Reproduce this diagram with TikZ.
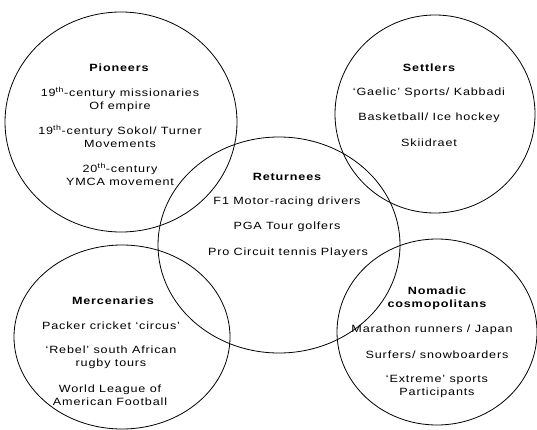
\documentclass[tikz,border=0pt]{standalone}
\usepackage{fontspec}
\setmainfont{Liberation Sans}[FakeStretch=1.2,LetterSpace=8]
\usetikzlibrary{shapes.geometric}

\begin{document}
\begin{tikzpicture}[
      x=1pt,y=-1pt,
      ring/.style={draw,ellipse,line width=0.8pt,inner sep=0pt},
      head/.style={font=\fontsize{10.5}{13}\selectfont\bfseries,align=center},
      entry/.style={font=\fontsize{10.5}{13}\selectfont,align=center}
    ]
      \useasboundingbox (0,0) rectangle (537,430);
      % the five rings
      \node[ring,minimum width=232pt,minimum height=220pt] (pioneers) at (121,122) {};
      \node[ring,minimum width=200pt,minimum height=198pt] (settlers) at (435,114) {};
      \node[ring,minimum width=242pt,minimum height=216pt] (returnees) at (279,245) {};
      \node[ring,minimum width=216pt,minimum height=184pt] (mercenaries) at (122,337) {};
      \node[ring,minimum width=200pt,minimum height=186pt] (nomads) at (437,332) {};
      % Pioneers
      \node[head] (pioneershead) at (119,68) {Pioneers};
      \node[entry] (missionaries) at (120,99) {19\textsuperscript{th}-century missionaries\\Of empire};
      \node[entry] (sokol) at (120,136.5) {19\textsuperscript{th}-century Sokol/ Turner\\Movements};
      \node[entry] (ymca) at (120,174.5) {20\textsuperscript{th}-century\\YMCA movement};
      % Settlers
      \node[head] (settlershead) at (429,68) {Settlers};
      \node[entry] (gaelic) at (429,93) {`Gaelic' Sports/ Kabbadi};
      \node[entry] (basketball) at (429,118) {Basketball/ Ice hockey};
      \node[entry] (skiidraet) at (429,143) {Skiidraet};
      % Returnees
      \node[head] (returneeshead) at (287,177) {Returnees};
      \node[entry] (drivers) at (287,202) {F1 Motor-racing drivers};
      \node[entry] (golfers) at (287,227) {PGA Tour golfers};
      \node[entry] (tennis) at (288,253) {Pro Circuit tennis Players};
      % Mercenaries
      \node[head] (mercenarieshead) at (113,301) {Mercenaries};
      \node[entry] (packer) at (111,326) {Packer cricket `circus'};
      \node[entry] (rebel) at (111,357.5) {`Rebel' south African\\rugby tours};
      \node[entry] (league) at (110,395) {World League of\\American Football};
      % Nomadic cosmopolitans
      \node[head] (nomadshead) at (437,298.5) {Nomadic\\cosmopolitans};
      \node[entry] (marathon) at (432,330) {Marathon runners / Japan};
      \node[entry] (surfers) at (437,355) {Surfers/ snowboarders};
      \node[entry] (extreme) at (437,386) {`Extreme' sports\\Participants};
    \end{tikzpicture}
\end{document}
